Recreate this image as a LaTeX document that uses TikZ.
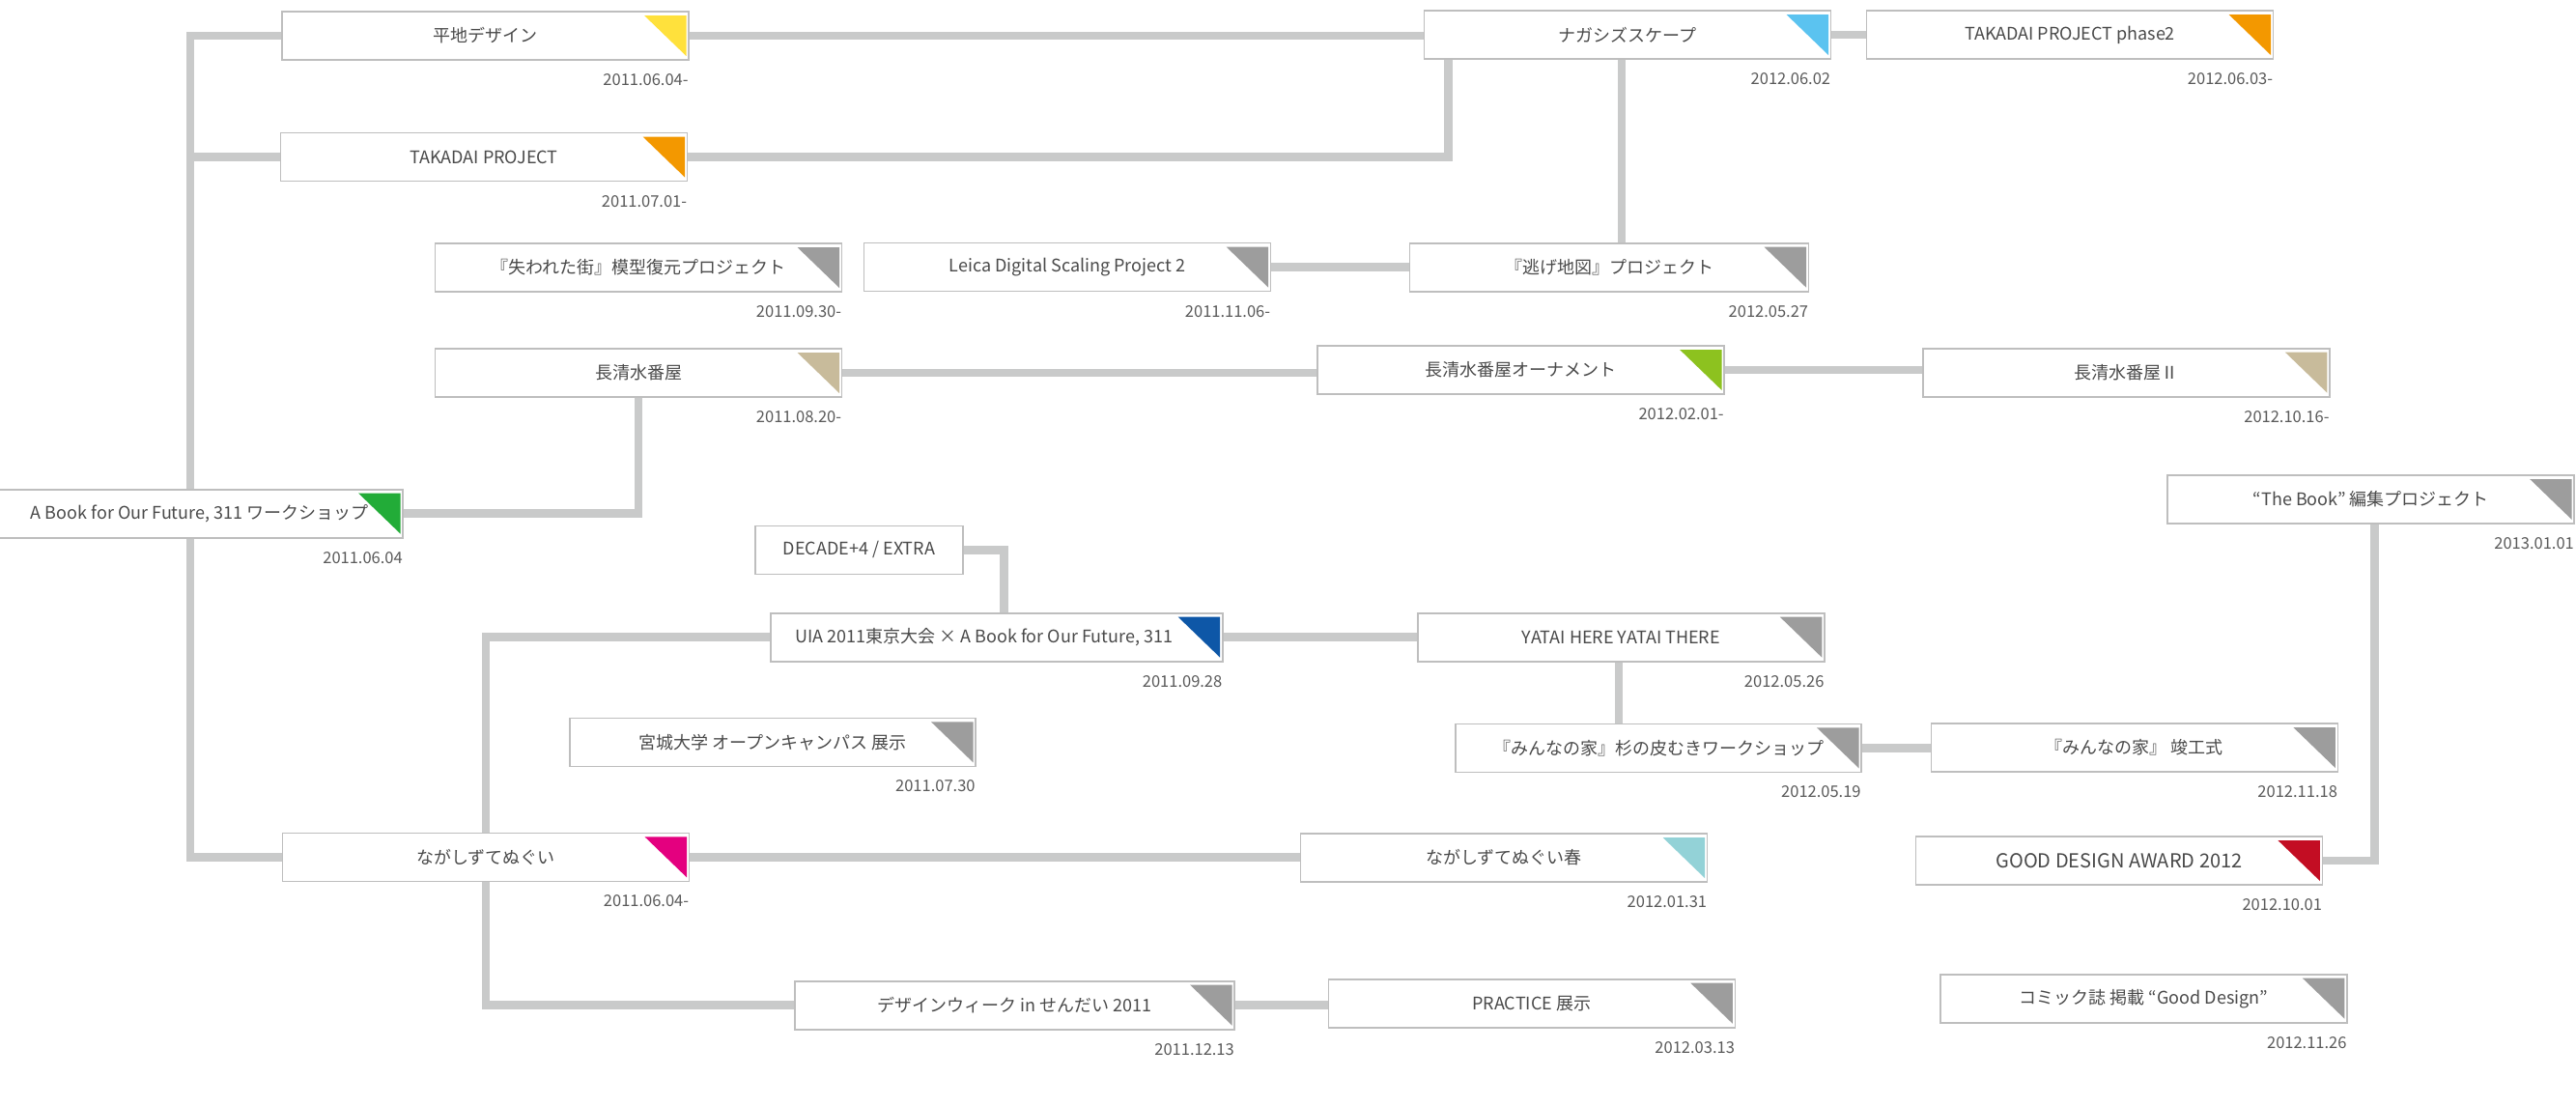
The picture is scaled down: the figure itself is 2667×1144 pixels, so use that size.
\documentclass[tikz,border=0pt]{standalone}
\usepackage{fontspec}
\setmainfont{Noto Sans CJK JP}
\usetikzlibrary{backgrounds,calc}
\definecolor{conn}{HTML}{C9CACA}
\definecolor{boxline}{HTML}{BEBEBE}
\definecolor{txt}{HTML}{4A4A4A}
\definecolor{datec}{HTML}{5A5A5A}
\definecolor{cyellow}{HTML}{FFE13C}
\definecolor{corange}{HTML}{F39800}
\definecolor{cblue}{HTML}{5BC3F0}
\definecolor{cgrey}{HTML}{9D9D9D}
\definecolor{ctan}{HTML}{C8BB9B}
\definecolor{clime}{HTML}{8DC21F}
\definecolor{cgreen}{HTML}{22AC38}
\definecolor{cnavy}{HTML}{0E57A7}
\definecolor{cmagenta}{HTML}{E4007F}
\definecolor{ccyan}{HTML}{93D2D7}
\definecolor{cred}{HTML}{C30D23}
\newcommand\mkcard[7]{%
  \node[card, minimum width=#4pt, flag=#5] (#1) at (#2,#3) {#6};
  \node[datelbl] (#1-d) at ([xshift=-1pt,yshift=-20pt]#1.south east) {#7};}
\begin{document}
\begin{tikzpicture}[x=1pt,y=-1pt,
  card/.style={draw=boxline, line width=1.6pt, fill=white, minimum width=421pt,
    minimum height=50pt, inner sep=0pt, text=txt, font=\fontsize{18}{20}\selectfont},
  flag/.style={path picture={\fill[#1]
    ([xshift=-46pt,yshift=-4pt]path picture bounding box.north east) --
    ([xshift=-2.5pt,yshift=-4pt]path picture bounding box.north east) --
    ([xshift=-2.5pt,yshift=4pt]path picture bounding box.south east) -- cycle;}},
  datelbl/.style={anchor=east, text=datec, font=\fontsize{16.5}{18}\selectfont, inner sep=0pt},
  link/.style={draw=conn, line width=8.5pt}]
\useasboundingbox (0,0) rectangle (2667,1144);

\mkcard{heichi}{502.5}{37}{421}{cyellow}{平地デザイン}{2011.06.04-}
\mkcard{takadai}{501}{162.5}{421}{corange}{TAKADAI PROJECT}{2011.07.01-}
\mkcard{ushinawareta}{661}{277}{421}{cgrey}{『失われた街』模型復元プロジェクト}{2011.09.30-}
\mkcard{leica}{1105}{276.5}{421}{cgrey}{Leica Digital Scaling Project 2}{2011.11.06-}
\mkcard{nigechizu}{1666}{276.7}{413}{cgrey}{『逃げ地図』プロジェクト}{2012.05.27}
\mkcard{nagashizu}{1685}{36}{421}{cblue}{ナガシズスケープ}{2012.06.02}
\mkcard{phase2}{2143}{36}{421}{corange}{TAKADAI PROJECT phase2}{2012.06.03-}
\mkcard{choshimizu}{661}{386}{421}{ctan}{長清水番屋}{2011.08.20-}
\mkcard{ornament}{1574.6}{383}{421}{clime}{長清水番屋オーナメント}{2012.02.01-}
\mkcard{choshimizu2}{2201.4}{385.7}{421}{ctan}{長清水番屋Ⅱ}{2012.10.16-}
\mkcard{abook}{206.7}{531.7}{421}{cgreen}{A Book for Our Future, 311 ワークショップ}{2011.06.04}
\mkcard{thebook}{2454.7}{517}{421}{cgrey}{“The Book” 編集プロジェクト}{2013.01.01}
\node[card, minimum width=215pt] (decade) at (889.5,569.3) {DECADE+4 / EXTRA};
\mkcard{uia}{1031.7}{659.7}{468}{cnavy}{\hspace*{-26pt}UIA 2011東京大会 × A Book for Our Future, 311}{2011.09.28}
\mkcard{yatai}{1678.3}{659.7}{421}{cgrey}{YATAI HERE YATAI THERE}{2012.05.26}
\mkcard{miyagi}{800}{768.3}{420}{cgrey}{宮城大学 オープンキャンパス 展示}{2011.07.30}
\mkcard{minna}{1717}{774.3}{420}{cgrey}{『みんなの家』杉の皮むきワークショップ}{2012.05.19}
\mkcard{shunko}{2209.8}{774}{421}{cgrey}{『みんなの家』 竣工式}{2012.11.18}
\mkcard{tenugui}{503}{887.3}{421}{cmagenta}{ながしずてぬぐい}{2011.06.04-}
\mkcard{haru}{1557}{888}{421}{ccyan}{ながしずてぬぐい春}{2012.01.31}
\mkcard{gda}{2193.9}{891}{421}{cred}{\fontsize{20}{22}\selectfont GOOD DESIGN AWARD 2012}{2012.10.01}
\mkcard{dw}{1050.7}{1040.7}{455}{cgrey}{デザインウィーク in せんだい 2011}{2011.12.13}
\mkcard{practice}{1585.8}{1038.7}{421}{cgrey}{PRACTICE 展示}{2012.03.13}
\mkcard{comic}{2219.4}{1033.7}{421}{cgrey}{コミック誌 掲載 “Good Design”}{2012.11.26}

\begin{pgfonlayer}{background}
\fill[white] (0,0) rectangle (2667,1144);
\coordinate (tk) at (197,0);
\draw[link] (heichi.west) -- (heichi.west -| tk) |- (tenugui.west);
\draw[link] (takadai.west) -- (takadai.west -| tk);
\draw[link] (heichi.east) -- (heichi.east -| nagashizu.west);
\draw[link] (takadai.east) -| ([xshift=26pt]nagashizu.south west);
\draw[link] (nagashizu.east) -- (nagashizu.east -| phase2.west);
\draw[link] ([xshift=-6pt]nagashizu.south) -- ([xshift=-6pt]nagashizu.south |- nigechizu.north);
\draw[link] (leica.east) -- (leica.east -| nigechizu.west);
\draw[link] (choshimizu.east) -- (choshimizu.east -| ornament.west);
\draw[link] (ornament.east) -- (ornament.east -| choshimizu2.west);
\draw[link] (choshimizu.south) |- (abook.east);
\draw[link] (decade.east) -| ([xshift=8pt]uia.north);
\draw[link] (tenugui.north) |- (uia.west);
\draw[link] (tenugui.south) |- (dw.west);
\draw[link] (tenugui.east) -- (tenugui.east -| haru.west);
\draw[link] (uia.east) -- (uia.east -| yatai.west);
\draw[link] ([xshift=-2.5pt]yatai.south) -- ([xshift=-2.5pt]yatai.south |- minna.north);
\draw[link] (minna.east) -- (minna.east -| shunko.west);
\draw[link] (dw.east) -- (dw.east -| practice.west);
\draw[link] ([xshift=4pt]thebook.south) |- (gda.east);
\end{pgfonlayer}
\end{tikzpicture}
\end{document}
